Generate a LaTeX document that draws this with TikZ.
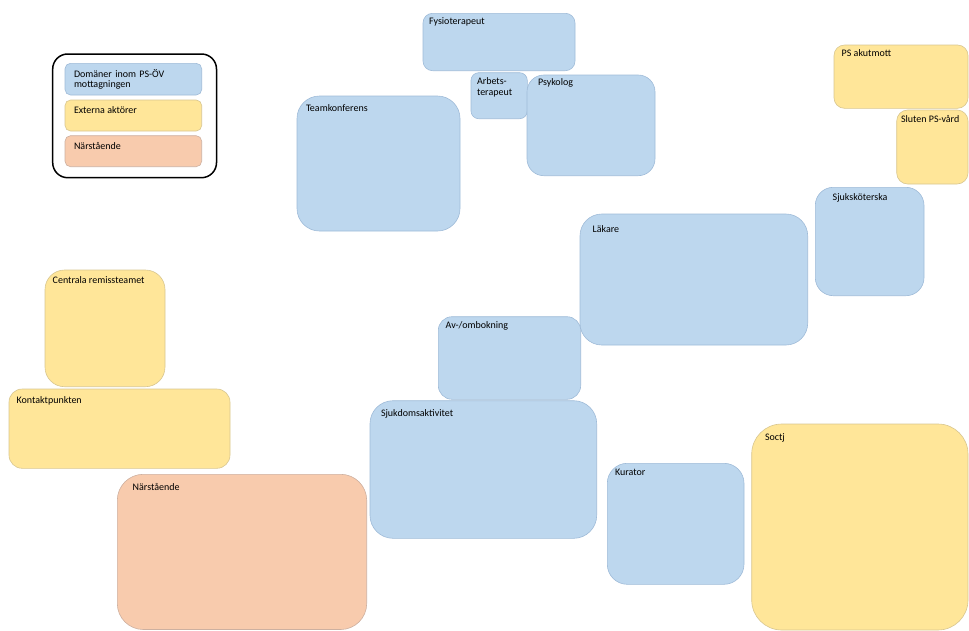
\documentclass[tikz,border=0pt]{standalone}
\usepackage{fontspec}
\setmainfont{Carlito}

\definecolor{domfill}{HTML}{BDD7EE}
\definecolor{domdraw}{HTML}{9FBBD8}
\definecolor{extfill}{HTML}{FFE699}
\definecolor{extdraw}{HTML}{D8C690}
\definecolor{relfill}{HTML}{F8CBAD}
\definecolor{reldraw}{HTML}{CDB0A0}

\tikzset{
  box/.style={rectangle, inner sep=0pt, outer sep=0pt, anchor=north west, line width=0.6pt},
  dom/.style={box, fill=domfill, draw=domdraw},
  ext/.style={box, fill=extfill, draw=extdraw},
  rel/.style={box, fill=relfill, draw=reldraw},
  frame/.style={box, draw=black, line width=1.5pt, fill=white},
  lbl/.style={anchor=base west, inner sep=0pt, outer sep=0pt,
              font=\fontsize{10}{11}\selectfont, text=black},
}

% \areabox{style}{name}{x1}{y1}{x2}{y2}{corner radius}
\newcommand\areabox[7]{%
  \node[#1, rounded corners=#7pt,
        minimum width={(#5-#3)*1pt}, minimum height={(#6-#4)*1pt}] (#2) at (#3,#4) {};}

\begin{document}
\begin{tikzpicture}[x=1pt, y=-1pt]
\useasboundingbox (0,0) rectangle (969,630);

% legend
\areabox{frame}{legend}{52.7}{54}{216.5}{177.7}{15}
\areabox{dom}{legdom}{65}{63.3}{201.7}{95}{5.5}
\areabox{ext}{legext}{65}{100}{201.7}{131}{5.5}
\areabox{rel}{legrel}{65}{135.7}{201.7}{166.7}{5.5}
\node[lbl, text width=120pt, align=left, font=\fontsize{10}{10.4}\selectfont] (legdom-t) at (74,77.3) {Domäner inom PS-ÖV\\mottagningen};
\node[lbl] (legext-t) at (74,113.3) {Externa aktörer};
\node[lbl] (legrel-t) at (74,149) {Närstående};

% domains within the clinic
\areabox{dom}{fysio}{423}{13.3}{575}{70.7}{9.6}
\areabox{dom}{arbets}{471}{72.7}{527.3}{118.7}{7.7}
\areabox{dom}{psykolog}{527}{75}{655}{175.7}{16.8}
\areabox{dom}{team}{297}{96}{460}{231}{22.5}
\areabox{dom}{skoterska}{815.3}{187.3}{924}{295.7}{18}
\areabox{dom}{lakare}{580}{214}{807.7}{345}{21.8}
\areabox{dom}{avom}{438.3}{316.7}{580.7}{399.3}{13.8}
\areabox{dom}{sjukdom}{370}{400.7}{596.7}{538.3}{23}
\areabox{dom}{kurator}{607.3}{463.3}{744}{584.3}{20}

% external actors
\areabox{ext}{akut}{834}{45}{968}{108.3}{10.5}
\areabox{ext}{sluten}{896.7}{110}{968}{184}{11}
\areabox{ext}{centrala}{45}{270}{165}{386.7}{19.5}
\areabox{ext}{kontakt}{9}{389}{230}{468.3}{13.2}
\areabox{ext}{soctj}{751.7}{424}{968}{630}{30}

% relatives
\areabox{rel}{narst}{117.3}{474.3}{366.7}{629.5}{26}

% labels
\node[lbl] (fysio-t) at (429,24) {Fysioterapeut};
\node[lbl, text width=50pt, align=left] (arbets-t) at (477,84) {Arbets-\\terapeut};
\node[lbl] (psykolog-t) at (538,85) {Psykolog};
\node[lbl] (team-t) at (306,111.7) {Teamkonferens};
\node[lbl] (skoterska-t) at (832.7,200.7) {Sjuksköterska};
\node[lbl] (lakare-t) at (592.7,232.7) {Läkare};
\node[lbl] (avom-t) at (445.7,328.3) {Av-/ombokning};
\node[lbl] (sjukdom-t) at (381,416.7) {Sjukdomsaktivitet};
\node[lbl] (kurator-t) at (615,475.7) {Kurator};
\node[lbl] (akut-t) at (841.7,56.7) {PS akutmott};
\node[lbl] (sluten-t) at (901,122.7) {Sluten PS-vård};
\node[lbl] (centrala-t) at (52.7,283.3) {Centrala remissteamet};
\node[lbl] (kontakt-t) at (16.7,403.3) {Kontaktpunkten};
\node[lbl] (soctj-t) at (765,440.7) {Soctj};
\node[lbl] (narst-t) at (132.7,490) {Närstående};
\end{tikzpicture}
\end{document}
